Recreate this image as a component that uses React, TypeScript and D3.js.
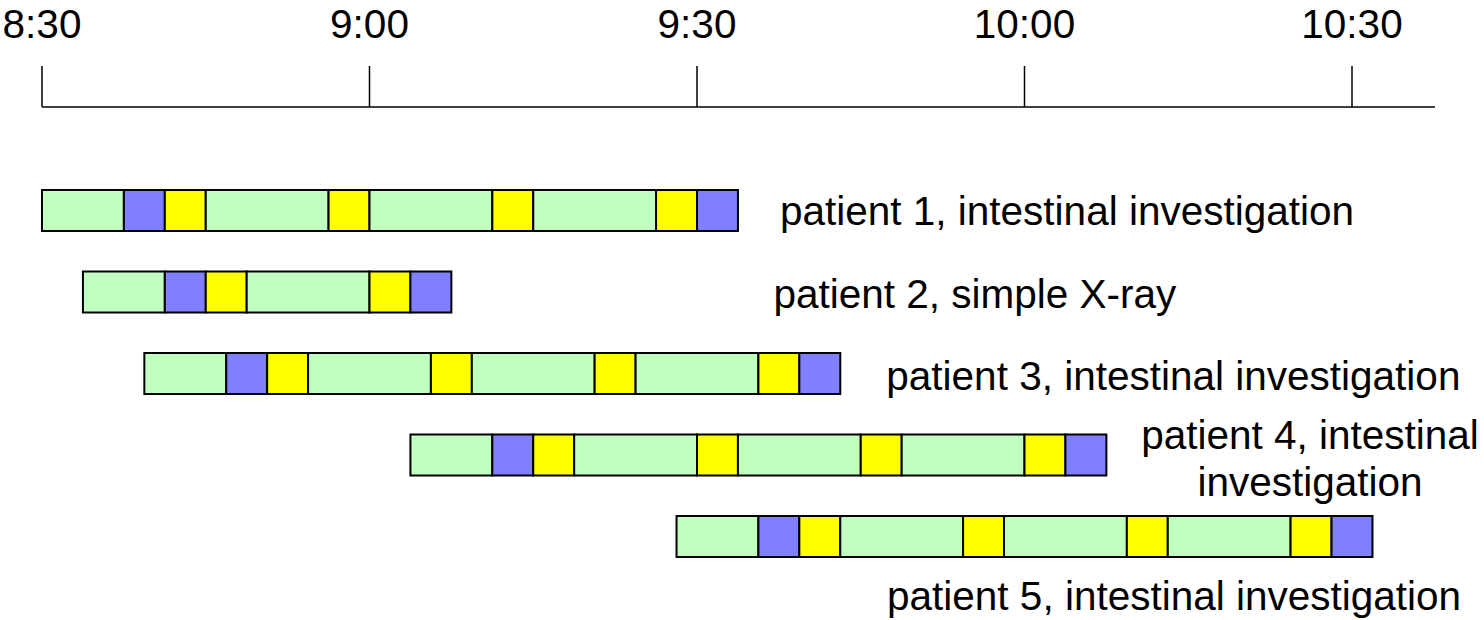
import * as d3 from 'd3';

// minutes after 8:30
const tickMinutes = [0, 30, 60, 90, 120];
const tickLabels = ['8:30', '9:00', '9:30', '10:00', '10:30'];

const patients = ['patient 1', 'patient 2', 'patient 3', 'patient 4', 'patient 5'];
const procedures = [
  'intestinal investigation',
  'simple X-ray',
  'intestinal investigation',
  'intestinal investigation',
  'intestinal investigation',
];
const startMinutes = [0, 3.75, 9.375, 33.75, 58.125];

// activity kinds: w = waiting (green), p = preparation (blue), x = X-ray (yellow)
const intestinalSteps: [string, number][] = [
  ['w', 7.5], ['p', 3.75], ['x', 3.75], ['w', 11.25], ['x', 3.75],
  ['w', 11.25], ['x', 3.75], ['w', 11.25], ['x', 3.75], ['p', 3.75],
];
const simpleSteps: [string, number][] = [
  ['w', 7.5], ['p', 3.75], ['x', 3.75], ['w', 11.25], ['x', 3.75], ['p', 3.75],
];
const stepsPerPatient = [intestinalSteps, simpleSteps, intestinalSteps, intestinalSteps, intestinalSteps];

const FILL: Record<string, string> = { w: '#c0ffc0', p: '#8080ff', x: '#ffff00' };

export default function App() {
  const width = 1484;
  const height = 620;
  const x = d3.scaleLinear().domain([0, 120]).range([42, 1352]);
  const y = d3.scalePoint<number>().domain(d3.range(5)).range([190, 516]);
  const barH = 41;
  const axisY = 107;
  const font = '"Liberation Sans", Arial, sans-serif';
  const fs = 40.5;

  // label placement per row
  const labelPos = [
    { dx: 42, dy: 35, anchor: 'start' },
    { dx: 322, dy: 36, anchor: 'start' },
    { dx: 46, dy: 37, anchor: 'start' },
    { dx: 0, dy: 0, anchor: 'middle' },
    { dx: 0, dy: 94, anchor: 'start' },
  ];

  return (
    <svg width={width} height={height} style={{ position: 'absolute', left: 0, top: 0, background: '#fff' }}>
      <line x1={x(0)} x2={1435} y1={axisY} y2={axisY} stroke="#000" strokeWidth={1.5} />
      {tickMinutes.map((m, i) => (
        <g key={m}>
          <line x1={x(m)} x2={x(m)} y1={66} y2={axisY} stroke="#000" strokeWidth={1.5} />
          <text x={x(m)} y={38} textAnchor="middle" fontFamily={font} fontSize={fs}>
            {tickLabels[i]}
          </text>
        </g>
      ))}
      {patients.map((p, i) => {
        const steps = stepsPerPatient[i];
        const ends = d3.cumsum(steps.map((s) => s[1]));
        const top = y(i) ?? 0;
        const endX = x(startMinutes[i] + ends[ends.length - 1]);
        const lp = labelPos[i];
        const label = `${p}, ${procedures[i]}`;
        return (
          <g key={p}>
            {steps.map((s, j) => {
              const a = startMinutes[i] + (j === 0 ? 0 : ends[j - 1]);
              const b = startMinutes[i] + ends[j];
              return (
                <rect
                  key={j}
                  x={x(a)}
                  y={top}
                  width={x(b) - x(a)}
                  height={barH}
                  fill={FILL[s[0]]}
                  stroke="#000"
                  strokeWidth={2}
                />
              );
            })}
            {i === 3 ? (
              <text x={1310} fontFamily={font} fontSize={fs} textAnchor="middle">
                <tspan x={1310} y={top + 14}>{`${p}, intestinal`}</tspan>
                <tspan x={1310} y={top + 61}>investigation</tspan>
              </text>
            ) : (
              <text
                x={i === 4 ? 887 : endX + lp.dx}
                y={top + lp.dy}
                fontFamily={font}
                fontSize={fs}
                textAnchor={lp.anchor}
              >
                {label}
              </text>
            )}
          </g>
        );
      })}
    </svg>
  );
}
